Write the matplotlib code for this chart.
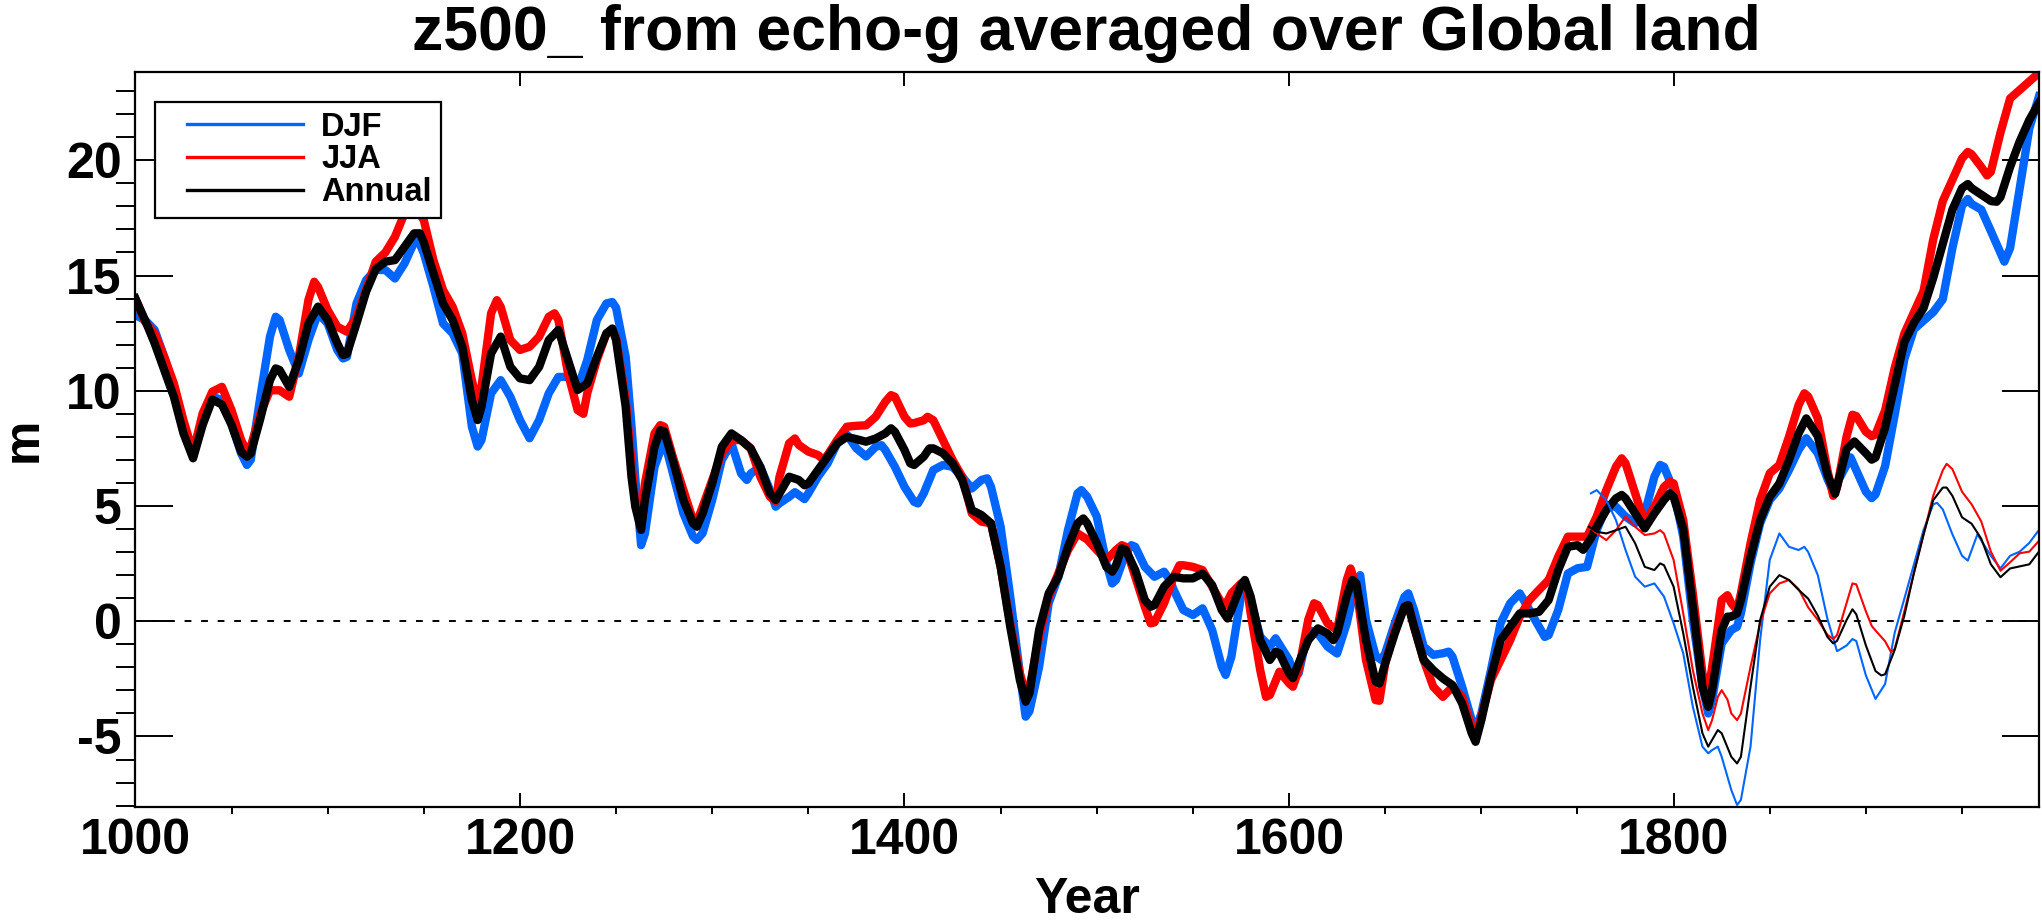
import numpy as np
import matplotlib
matplotlib.use("Agg")
import matplotlib.pyplot as plt
from matplotlib.ticker import MultipleLocator
from matplotlib.lines import Line2D
from matplotlib.legend_handler import HandlerLine2D

# z500 anomalies (m)
djf_years = [1000,1005,1010,1015,1020,1025,1030,1035,1040,1045,1050,1055,1058,1060,1065,1070,1073,1075,1080,1085,
             1090,1095,1100,1105,1108,1110,1115,1120,1125,1130,1135,1140,1145,1147,1150,1155,1160,1165,1170,1175,
             1178,1180,1185,1190,1195,1200,1205,1210,1215,1220,1225,1230,1235,1240,1245,1248,1250,1255,1258,1260,
             1263,1265,1270,1275,1280,1285,1290,1292,1295,1300,1305,1310,1315,1318,1320,1325,1330,1333,1335,1340,
             1343,1348,1350,1355,1360,1365,1370,1375,1380,1385,1388,1390,1395,1400,1405,1407,1410,1415,1420,1425,
             1430,1435,1440,1443,1445,1450,1455,1460,1463,1465,1470,1475,1480,1485,1490,1492,1495,1500,1505,1508,
             1510,1515,1518,1520,1525,1530,1535,1538,1540,1545,1550,1555,1560,1565,1567,1570,1575,1577,1580,1585,
             1590,1593,1600,1603,1605,1610,1613,1615,1620,1625,1630,1635,1637,1640,1645,1648,1650,1655,1660,1662,
             1665,1670,1675,1680,1683,1685,1690,1695,1697,1700,1705,1710,1715,1720,1725,1730,1733,1735,1740,1745,
             1750,1755,1760,1765,1770,1775,1780,1785,1790,1793,1795,1800,1805,1810,1815,1818,1820,1825,1830,1833,
             1835,1840,1845,1850,1855,1860,1865,1869,1875,1880,1883,1885,1892,1895,1900,1903,1905,1910,1915,1920,
             1925,1930,1935,1940,1945,1950,1953,1955,1960,1965,1972,1975,1980,1985,1990]
djf = [13.28,13.07,12.64,11.47,10.17,8.57,7.14,8.87,9.74,9.6,8.57,7.28,6.78,7.0,9.74,12.35,13.21,13.07,11.77,10.75,
       12.2,13.36,12.92,11.77,11.4,11.47,13.79,14.8,15.24,15.24,14.87,15.53,16.44,16.55,15.96,14.51,12.92,12.49,11.62,8.44,
       7.58,7.86,9.89,10.46,9.74,8.73,7.94,8.73,9.89,10.6,10.6,10.1,11.33,13.07,13.79,13.85,13.6,11.47,8.5,6.2,
       3.3,3.8,6.7,7.86,6.27,4.68,3.68,3.53,3.82,5.26,7.0,7.72,6.41,6.13,6.41,6.7,5.7,4.97,5.12,5.4,
       5.6,5.3,5.55,6.27,6.85,7.72,8.1,7.5,7.15,7.57,7.64,7.43,6.7,5.83,5.18,5.11,5.55,6.56,6.78,6.7,
       6.27,5.76,6.13,6.2,5.83,4.1,1.07,-2.26,-4.14,-3.9,-1.98,0.78,1.93,3.95,5.55,5.69,5.4,4.54,2.51,1.64,
       1.79,2.95,3.3,3.23,2.36,1.93,2.15,1.79,1.36,0.49,0.27,0.56,-0.38,-1.97,-2.33,-1.54,1.08,1.64,0.92,-0.67,
       -1.1,-0.74,-1.68,-2.4,-2.26,-0.38,-0.45,-0.53,-1.1,-1.4,-0.1,1.79,2.0,0.07,-1.5,-1.68,-1.39,-0.09,1.06,1.21,
       0.49,-1.1,-1.46,-1.39,-1.32,-1.54,-2.84,-4.29,-4.72,-4.0,-2.12,-0.09,0.78,1.21,0.49,-0.24,-0.68,-0.6,0.49,2.07,
       2.3,2.36,3.95,4.97,4.97,4.54,4.25,4.68,6.27,6.78,6.7,5.69,3.67,0.05,-2.84,-4.0,-3.42,-0.96,-0.38,-0.24,
       0.34,2.51,4.25,5.26,5.76,6.56,7.43,7.94,7.29,6.18,5.62,6.0,7.11,6.55,5.62,5.34,5.5,6.73,8.96,11.37,
       12.67,13.04,13.41,13.97,16.19,18.04,18.32,18.1,17.86,16.93,15.6,16.19,18.79,21.38,22.77]

jja_years = [1000,1005,1010,1015,1020,1025,1030,1035,1040,1045,1050,1055,1058,1060,1065,1070,1075,1080,1085,1090,
             1093,1095,1100,1105,1110,1115,1120,1125,1130,1135,1140,1145,1150,1155,1160,1165,1170,1175,1178,1180,
             1185,1188,1190,1195,1200,1205,1210,1215,1218,1220,1225,1230,1233,1235,1240,1245,1248,1250,1255,1260,
             1263,1265,1270,1273,1275,1280,1285,1290,1292,1295,1300,1305,1310,1315,1320,1325,1330,1333,1335,1340,
             1343,1345,1350,1355,1358,1360,1365,1370,1375,1380,1385,1390,1393,1395,1400,1403,1405,1410,1412,1415,
             1420,1425,1430,1435,1440,1445,1450,1455,1460,1463,1465,1470,1475,1480,1485,1490,1495,1500,1505,1510,
             1513,1515,1520,1525,1528,1530,1535,1540,1543,1545,1550,1555,1560,1565,1567,1570,1575,1578,1580,1585,
             1588,1590,1595,1600,1602,1605,1610,1613,1615,1620,1625,1630,1632,1635,1640,1645,1647,1650,1655,1660,
             1662,1665,1670,1675,1680,1685,1690,1695,1697,1700,1705,1710,1715,1720,1725,1730,1735,1740,1745,1750,
             1755,1760,1765,1770,1773,1775,1780,1785,1790,1795,1798,1800,1805,1810,1815,1818,1820,1825,1828,1830,
             1833,1835,1840,1845,1850,1855,1860,1865,1868,1870,1875,1880,1883,1885,1890,1893,1895,1900,1903,1905,
             1910,1915,1920,1925,1930,1935,1940,1945,1950,1953,1955,1960,1963,1965,1970,1975,1980,1985,1990]
jja = [14.0,13.0,12.49,11.47,10.32,8.72,7.33,9.02,9.96,10.17,9.16,7.86,7.35,7.57,9.02,10.02,10.02,9.74,11.47,13.94,
       14.73,14.5,13.5,12.78,12.56,13.2,14.4,15.6,16.0,16.68,17.7,18.06,17.4,15.67,14.37,13.64,12.49,10.46,9.45,10.17,
       13.36,13.93,13.64,12.2,11.77,11.91,12.35,13.21,13.36,13.07,10.75,9.16,9.0,9.89,11.33,12.49,12.6,12.3,9.6,5.12,
       4.25,5.98,8.15,8.51,8.44,7.0,5.7,4.39,4.3,4.97,6.13,7.28,7.86,7.86,7.5,6.27,5.4,5.2,6.27,7.72,
       7.93,7.65,7.36,7.21,7.0,7.21,7.86,8.44,8.48,8.5,8.87,9.52,9.81,9.74,8.87,8.58,8.6,8.72,8.87,8.72,
       7.86,7.0,6.27,4.68,4.32,4.25,2.36,-0.1,-2.26,-3.13,-2.9,-0.66,1.07,2.07,3.08,3.81,3.55,3.09,2.66,3.09,
       3.3,3.23,1.93,0.63,-0.09,-0.05,0.78,1.93,2.43,2.43,2.36,2.22,1.5,0.78,0.7,1.21,1.64,1.5,0.36,-2.12,
       -3.28,-3.2,-2.19,-2.69,-2.84,-2.12,0.07,0.78,0.7,-0.09,-0.38,1.79,2.29,1.5,-1.68,-3.42,-3.45,-1.83,-0.38,0.63,
       0.7,-0.24,-1.68,-2.84,-3.28,-2.84,-3.28,-4.57,-5.0,-4.14,-2.55,-1.68,-0.82,0.2,0.92,1.36,1.79,2.8,3.67,3.67,
       3.67,4.54,5.69,6.7,7.07,6.85,5.55,4.25,4.97,5.83,6.05,5.98,4.39,1.21,-2.26,-3.13,-2.0,0.92,1.13,0.78,
       0.49,1.21,3.38,5.26,6.42,6.78,8.0,9.38,9.89,9.75,8.8,6.55,5.44,5.8,8.03,8.96,8.9,8.22,8.03,8.1,
       9.15,11.0,12.48,13.41,14.33,16.56,18.23,19.15,20.08,20.36,20.26,19.71,19.34,19.5,21.2,22.68,23.05,23.42,23.79]

ann_years = [1000,1005,1010,1015,1020,1025,1030,1035,1040,1045,1050,1055,1058,1060,1065,1070,1073,1075,1080,1085,
             1090,1095,1100,1105,1108,1110,1115,1120,1125,1130,1135,1140,1145,1148,1150,1155,1160,1165,1170,1175,
             1178,1180,1185,1190,1195,1200,1205,1210,1215,1220,1225,1230,1235,1240,1245,1248,1250,1255,1258,1260,
             1263,1265,1270,1273,1275,1280,1285,1290,1292,1295,1300,1305,1310,1315,1320,1325,1330,1333,1335,1340,
             1345,1348,1350,1355,1360,1365,1370,1375,1380,1385,1390,1393,1395,1400,1403,1405,1410,1413,1415,1420,
             1425,1430,1435,1440,1445,1450,1455,1460,1463,1465,1470,1475,1480,1485,1490,1493,1495,1500,1505,1508,
             1510,1513,1515,1520,1525,1528,1530,1535,1540,1545,1550,1555,1560,1565,1568,1570,1575,1577,1580,1585,
             1590,1593,1595,1600,1602,1605,1610,1615,1620,1623,1625,1630,1633,1635,1640,1645,1647,1650,1655,1660,
             1662,1665,1670,1675,1680,1685,1690,1695,1697,1700,1705,1710,1715,1720,1725,1730,1735,1740,1745,1750,
             1753,1757,1760,1765,1770,1773,1775,1780,1785,1790,1795,1798,1800,1805,1810,1815,1818,1820,1825,1828,
             1830,1833,1835,1840,1845,1850,1855,1860,1865,1869,1875,1880,1884,1890,1894,1900,1903,1905,1910,1915,
             1920,1925,1930,1935,1940,1945,1950,1953,1955,1960,1965,1968,1970,1975,1980,1985,1990]
ann = [14.0,13.07,12.06,10.9,9.74,8.15,7.07,8.52,9.62,9.4,8.52,7.35,7.14,7.28,8.8,10.46,10.97,10.9,10.17,11.33,
       12.92,13.65,13.07,12.06,11.55,11.6,12.92,14.3,15.28,15.6,15.67,16.25,16.83,16.83,16.44,15.1,13.79,13.07,11.91,9.6,
       8.73,9.31,11.62,12.35,11.04,10.54,10.46,11.04,12.2,12.64,11.33,10.03,10.32,11.47,12.49,12.7,12.2,9.3,6.27,4.97,
       3.96,5.26,7.57,8.29,8.24,6.85,5.26,4.25,4.1,4.68,5.98,7.57,8.15,7.86,7.5,6.7,5.55,5.26,5.55,6.27,
       6.13,5.9,5.98,6.56,7.14,7.72,8.0,7.9,7.79,7.93,8.15,8.37,8.22,7.43,6.85,6.78,7.14,7.5,7.5,7.29,
       6.85,6.13,4.82,4.61,4.25,2.36,-0.24,-2.55,-3.49,-3.13,-0.38,1.21,1.93,3.23,4.25,4.46,4.25,3.38,2.36,2.15,
       2.43,3.16,3.1,2.22,0.92,0.63,0.7,1.5,1.93,1.86,1.86,2.07,1.57,0.49,0.12,0.49,1.57,1.79,1.08,-0.82,
       -1.68,-1.32,-1.39,-2.26,-2.47,-1.82,-0.82,-0.31,-0.53,-0.82,-0.53,1.1,1.79,1.64,-0.82,-2.62,-2.7,-1.83,-0.53,0.63,
       0.7,-0.24,-1.68,-2.12,-2.48,-2.77,-3.56,-4.86,-5.23,-4.29,-2.41,-0.82,-0.24,0.34,0.34,0.41,0.92,2.22,3.23,3.3,
       3.1,3.6,4.1,4.82,5.33,5.48,5.33,4.68,4.03,4.68,5.26,5.55,5.4,4.0,0.63,-2.84,-3.71,-3.0,-0.38,0.2,
       0.2,0.34,0.92,2.8,4.39,5.4,5.98,6.99,8.15,8.8,8.03,6.36,5.53,7.47,7.8,7.29,7.01,7.1,8.4,10.26,
       12.11,12.95,13.59,14.89,16.37,17.86,18.79,18.97,18.79,18.51,18.23,18.2,18.4,19.71,20.82,21.75,22.49]

# second (thin) set of curves, 1756 onwards
djf2_years = [1757,1760,1765,1770,1775,1780,1785,1790,1795,1800,1805,1810,1815,1818,1820,1823,1825,1830,1833,1835,
              1840,1845,1850,1855,1860,1865,1868,1870,1875,1880,1885,1890,1893,1895,1900,1905,1910,1915,1920,1925,
              1930,1935,1937,1940,1945,1950,1953,1958,1965,1970,1975,1980,1985,1990]
djf2 = [5.55,5.69,5.26,4.39,3.09,1.93,1.5,1.64,1.07,-0.09,-1.39,-3.71,-5.44,-5.73,-5.59,-5.44,-5.88,-7.32,-7.97,-7.75,
        -5.44,-0.81,2.66,3.81,3.23,3.09,3.23,3.0,2.0,0.1,-1.3,-1.05,-0.77,-0.86,-2.35,-3.37,-2.72,-0.49,0.98,2.47,
        3.96,5.07,5.14,4.85,3.77,2.84,2.63,3.77,2.84,2.29,2.84,3.02,3.4,3.96]

jja2_years = [1756,1760,1765,1770,1775,1780,1785,1790,1793,1795,1800,1805,1810,1815,1818,1820,1823,1825,1828,1830,
              1833,1835,1840,1845,1850,1855,1860,1865,1870,1875,1880,1883,1885,1890,1893,1895,1900,1903,1905,1910,
              1913,1915,1920,1925,1930,1935,1940,1942,1945,1950,1955,1960,1965,1970,1975,1980,1985,1990]
jja2 = [4.1,3.81,3.52,3.95,4.54,4.1,3.74,3.81,3.95,3.8,2.66,0.34,-2.12,-4.0,-4.72,-4.29,-3.28,-2.99,-3.4,-4.0,
        -4.29,-4.0,-1.98,-0.09,1.21,1.64,1.79,1.4,0.6,0.06,-0.59,-0.77,-0.6,0.8,1.64,1.6,0.43,-0.2,-0.4,-0.87,
        -1.33,-1.2,0.43,2.1,3.77,5.44,6.55,6.83,6.6,5.62,5.07,4.33,3.02,2.19,2.56,2.95,3.02,3.49]

ann2_years = [1756,1760,1765,1770,1775,1780,1785,1790,1793,1795,1800,1805,1810,1815,1818,1820,1823,1825,1830,1833,
              1835,1840,1845,1850,1855,1860,1865,1870,1875,1880,1883,1885,1890,1893,1895,1900,1905,1908,1910,1915,
              1920,1925,1930,1935,1940,1942,1945,1950,1955,1960,1965,1970,1975,1980,1985,1990]
ann2 = [4.1,3.88,3.81,3.95,4.1,3.38,2.36,2.22,2.51,2.43,1.5,-0.52,-2.84,-4.86,-5.44,-5.15,-4.72,-4.86,-5.88,-6.17,
        -5.88,-2.84,0.05,1.5,2.0,1.79,1.36,0.98,0.24,-0.68,-0.96,-0.85,0.06,0.52,0.3,-1.05,-2.16,-2.35,-2.3,-1.24,
        0.24,2.1,3.77,5.25,5.8,5.8,5.44,4.51,4.23,3.58,2.47,1.91,2.29,2.38,2.47,3.02]

blue = '#0066ff'
red = '#ff0000'

plt.rcParams['font.family'] = ['Liberation Sans', 'DejaVu Sans']
plt.rcParams['font.weight'] = 'bold'
plt.rcParams['axes.unicode_minus'] = False

fig = plt.figure(figsize=(20.42, 9.24), dpi=100)
ax = fig.add_axes([0.0663, 0.1266, 0.9322, 0.7955])

ax.axhline(0, color='k', lw=1.4, linestyle=(0, (3.5, 5)))

ax.plot(djf_years, djf, color=blue, lw=6, label='DJF', solid_joinstyle='round')
ax.plot(jja_years, jja, color=red, lw=6, label='JJA', solid_joinstyle='round')
ax.plot(ann_years, ann, color='k', lw=6, label='Annual', solid_joinstyle='round')

ax.plot(djf2_years, djf2, color=blue, lw=1.5)
ax.plot(jja2_years, jja2, color=red, lw=1.5)
ax.plot(ann2_years, ann2, color='k', lw=1.5)

ax.set_xlim(1000, 1990)
ax.set_ylim(-8.06, 23.83)
ax.xaxis.set_major_locator(MultipleLocator(200))
ax.xaxis.set_minor_locator(MultipleLocator(50))
ax.yaxis.set_major_locator(MultipleLocator(5))
ax.yaxis.set_minor_locator(MultipleLocator(1))
ax.tick_params(direction='in', top=True, right=True, labelsize=36)
ax.tick_params(axis='x', which='major', length=10, width=1.4, pad=8)
ax.tick_params(axis='x', which='minor', length=5, width=1.4)
ax.tick_params(axis='y', which='major', length=27, width=1.4, pad=10)
ax.tick_params(axis='y', which='minor', length=13.5, width=1.4)
for s in ax.spines.values():
    s.set_linewidth(1.6)

ax.set_xlabel('Year', fontsize=36, fontweight='bold', labelpad=9)
ax.set_ylabel('m', fontsize=36, fontweight='bold', labelpad=14)
fig.text(0.532, 0.946, 'z500_ from echo-g averaged over Global land', fontsize=45,
         fontweight='bold', ha='center', va='baseline')

leg = ax.legend(loc='upper left', bbox_to_anchor=(0.0759, 0.8896), bbox_transform=fig.transFigure,
                fontsize=23.5, handlelength=4.24, handletextpad=0.55, labelspacing=0.05,
                borderpad=0.3, borderaxespad=0, fancybox=False, framealpha=1, edgecolor='k',
                handler_map={Line2D: HandlerLine2D(xpad=0.68)})
leg.get_frame().set_linewidth(1.6)
for ln in leg.get_lines():
    ln.set_linewidth(2.4)

fig.savefig('out.png', dpi=100)
